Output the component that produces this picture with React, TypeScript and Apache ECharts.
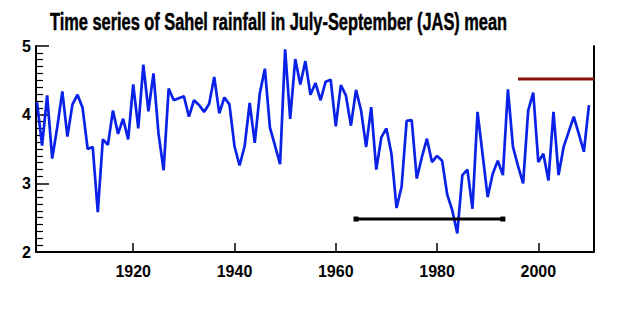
import React, { useEffect, useRef } from "react";
import * as echarts from "echarts";

const TITLE = "Time series of Sahel rainfall in July-September (JAS) mean";
const START_YEAR = 1901;
// JAS mean Sahel rainfall, 1901–2010
const rainfall = [
  4.18, 3.55, 4.28, 3.36, 3.82, 4.34, 3.68, 4.15, 4.29, 4.1,
  3.5, 3.53, 2.58, 3.64, 3.56, 4.06, 3.72, 3.94, 3.64, 4.44,
  3.8, 4.73, 4.05, 4.6, 3.72, 3.19, 4.38, 4.21, 4.24, 4.27,
  3.97, 4.21, 4.14, 4.04, 4.16, 4.55, 4.02, 4.25, 4.15, 3.54,
  3.26, 3.54, 4.17, 3.59, 4.31, 4.67, 3.81, 3.55, 3.28, 4.95,
  3.94, 4.81, 4.44, 4.78, 4.29, 4.46, 4.21, 4.48, 4.51, 3.83,
  4.43, 4.28, 3.84, 4.36, 4.06, 3.53, 4.11, 3.2, 3.67, 3.8,
  3.43, 2.64, 2.95, 3.91, 3.92, 3.07, 3.38, 3.65, 3.31, 3.4,
  3.33, 2.84, 2.61, 2.27, 3.12, 3.2, 2.63, 4.04, 3.42, 2.8,
  3.14, 3.33, 3.12, 4.37, 3.53, 3.25, 3.0, 4.06, 4.32, 3.31,
  3.43, 3.04, 4.04, 3.12, 3.53, 3.75, 3.97, 3.72, 3.46, 4.14,
];
const droughtPeriod = [[1964, 2.48], [1993, 2.48]];
const recentLevel = [[1996, 4.52], [2011, 4.52]];
const xTicks = [1920, 1940, 1960, 1980, 2000];
const yTicks = [2, 3, 4, 5];

export default function App() {
  const ref = useRef<HTMLDivElement>(null);
  useEffect(() => {
    if (!ref.current) return;
    const chart = echarts.init(ref.current, null, { renderer: "svg" });
    const titleFont = '"Liberation Sans Narrow", "Liberation Sans", sans-serif';
    const titleSize = 24;
    let scaleX = 0.75;
    try {
      const ctx = document.createElement("canvas").getContext("2d");
      if (ctx) {
        ctx.font = `bold ${titleSize}px ${titleFont}`;
        const w = ctx.measureText(TITLE).width;
        if (w > 0) scaleX = 457 / w;
      }
    } catch (e) {}
    const series = rainfall.map((v, i) => [START_YEAR + i, v]);
    const labelFont = {
      fontFamily: '"Liberation Sans Narrow", "Liberation Sans", sans-serif',
      fontWeight: "bold" as const,
      fontSize: 16,
      color: "#000",
    };
    const tickLen = 0.13; // in data units of the y axis (~9px)
    chart.setOption({
      animation: false,
      grid: { left: 36, right: 40, top: 46, bottom: 73 },
      graphic: [
        {
          type: "text",
          x: 50,
          y: 21,
          scaleX,
          style: {
            text: TITLE,
            fontFamily: titleFont,
            fontWeight: "bold",
            fontSize: titleSize,
            fill: "#000",
            stroke: "#000",
            lineWidth: 0.5,
            align: "left",
            verticalAlign: "middle",
          },
        },
      ],
      xAxis: {
        type: "value",
        min: 1900.8,
        max: 2011,
        axisLine: { show: true, lineStyle: { color: "#000", width: 2 } },
        axisTick: { show: false },
        axisLabel: {
          ...labelFont,
          margin: 11,
          customValues: xTicks,
          formatter: (v: number) => String(v),
        },
        splitLine: { show: false },
      },
      yAxis: [
        {
          type: "value",
          min: 2,
          max: 5,
          interval: 1,
          axisLine: { show: true, lineStyle: { color: "#000", width: 2 } },
          axisTick: {
            show: true,
            inside: true,
            length: 13,
            lineStyle: { color: "#000", width: 1.5 },
          },
          minorTick: {
            show: true,
            splitNumber: 10,
            length: 7,
            lineStyle: { color: "#000", width: 1.2 },
          },
          axisLabel: { ...labelFont, margin: 5, customValues: yTicks },
          splitLine: { show: false },
        },
        {
          type: "value",
          position: "right",
          min: 2,
          max: 5,
          interval: 1,
          axisLine: { show: true, lineStyle: { color: "#000", width: 2 } },
          axisTick: { show: false },
          axisLabel: { show: false },
          splitLine: { show: false },
        },
      ],
      series: [
        {
          type: "line",
          data: series,
          showSymbol: false,
          symbol: "none",
          lineStyle: { color: "#0a22e8", width: 2.7 },
          itemStyle: { color: "#0a22e8" },
          markLine: {
            silent: true,
            symbol: "none",
            label: { show: false },
            lineStyle: { color: "#000", width: 1.5, type: "solid" },
            data: xTicks.map((t) => [
              { coord: [t, 2] },
              { coord: [t, 2 + tickLen] },
            ]),
          },
        },
        {
          type: "line",
          data: droughtPeriod,
          symbol: "rect",
          symbolSize: 5,
          lineStyle: { color: "#000", width: 3 },
          itemStyle: { color: "#000" },
        },
        {
          type: "line",
          data: recentLevel,
          symbol: "none",
          lineStyle: { color: "#8b0e0e", width: 3 },
          itemStyle: { color: "#8b0e0e" },
        },
      ],
    });
    return () => chart.dispose();
  }, []);
  return (
    <div
      ref={ref}
      style={{ position: "fixed", left: 0, top: 0, width: 634, height: 325, background: "#fff" }}
    />
  );
}
